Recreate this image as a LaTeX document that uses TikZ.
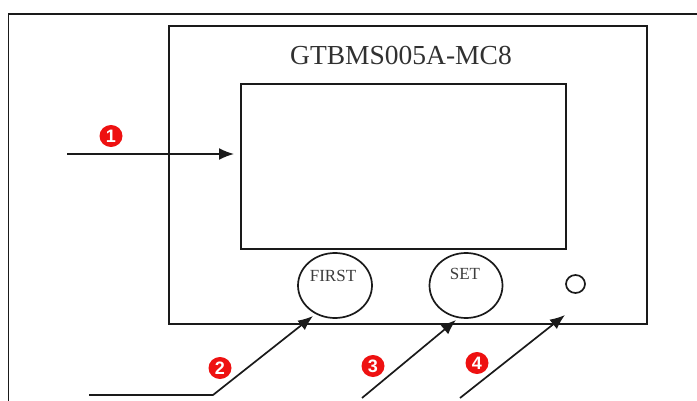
\documentclass[tikz,border=0pt]{standalone}
\usepackage{fontspec}
\setmainfont{Liberation Serif}
\newfontfamily\badgefont{Liberation Sans}
\usetikzlibrary{arrows.meta,shapes.geometric}
\definecolor{badgered}{HTML}{EE1111}
\definecolor{ink}{HTML}{1A1A1A}
\tikzset{
  frame/.style={draw=ink,line width=1.8pt},
  knob/.style={draw=ink,line width=1.7pt,ellipse,minimum width=74pt,minimum height=65pt,inner sep=0pt},
  knoblabel/.style={text=ink!85,font=\fontsize{17}{17}\selectfont,inner sep=0pt},
  pointer/.style={draw=ink,line width=1.7pt,-{Latex[length=15pt,width=12pt]}},
  badge/.style={ellipse,fill=badgered,minimum width=23pt,minimum height=22pt,inner sep=0pt,
    text=white,font=\badgefont\bfseries\fontsize{18}{18}\selectfont},
}
\begin{document}
\begin{tikzpicture}[x=1pt,y=-1pt]
\useasboundingbox (0,0) rectangle (697,401);
% outer frame (left and top edges visible)
\draw[ink,line width=1.8pt] (8.5,401) -- (8.5,14) -- (697,14);
% device
\node[frame,minimum width=478pt,minimum height=298pt,inner sep=0pt,anchor=north west] (dev) at (168,25) {};
\node[text=ink!90,font=\fontsize{27.5}{28}\selectfont,inner sep=0pt] (title) at (401,55) {GTBMS005A-MC8};
\node[frame,line width=1.7pt,minimum width=325pt,minimum height=165pt,inner sep=0pt,anchor=north west] (screen) at (240,83) {};
% buttons
\node[knob] (first) at (335,285.5) {};
\node[knoblabel] (firstlbl) at (333,276) {FIRST};
\node[knob,minimum width=73pt] (set) at (466,285.5) {};
\node[knoblabel] (setlbl) at (465,274) {SET};
\node[draw=ink,line width=1.7pt,ellipse,minimum width=19pt,minimum height=18pt,inner sep=0pt] (led) at (575.5,284) {};
% pointer coordinates
\coordinate (s1) at (67,154);
\coordinate (t1) at (234,154);
\coordinate (s2) at (89,395);
\coordinate (k2) at (213,395);
\coordinate (t2) at (313,316);
\coordinate (s3) at (362,398);
\coordinate (t3) at (456,320);
\coordinate (s4) at (460,398);
\coordinate (t4) at (565,315);
\draw[pointer] (s1) -- (t1);
\draw[pointer] (s2) -- (k2) -- (t2);
\draw[pointer] (s3) -- (t3);
\draw[pointer] (s4) -- (t4);
% badges
\node[badge] (b1) at (111,136) {1};
\node[badge] (b2) at (220,368) {2};
\node[badge] (b3) at (373,366) {3};
\node[badge] (b4) at (477,363) {4};
\end{tikzpicture}
\end{document}
